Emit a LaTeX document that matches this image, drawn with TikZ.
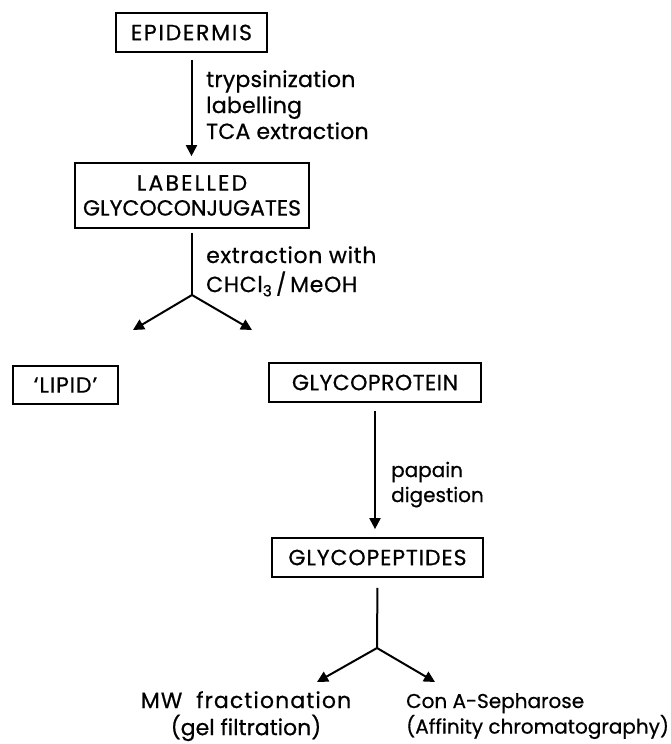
\documentclass[tikz,border=0pt]{standalone}
\usepackage{fontspec}
\setmainfont{Poppins}[AutoFakeBold=0.6]
\usetikzlibrary{arrows.meta}
\newcommand{\lbl}[1]{\begin{tabular}[t]{@{}l@{}}#1\end{tabular}}
\newcommand{\clbl}[1]{\begin{tabular}[t]{@{}c@{}}#1\end{tabular}}
\newcommand{\lsp}[1]{\addfontfeatures{LetterSpace=#1}}
\begin{document}
\begin{tikzpicture}[x=1pt,y=-1pt,
  box/.style={draw, line width=1.7pt, inner sep=0pt, font=\fontsize{22}{25}\selectfont\bfseries, align=center},
  lab/.style={inner sep=0pt, anchor=base west, font=\fontsize{22}{26}\selectfont\bfseries},
  clab/.style={inner sep=0pt, anchor=base, font=\fontsize{22}{22}\selectfont\bfseries},
  flow/.style={line width=2pt, -{Triangle[width=11pt,length=11pt]}},
  stem/.style={line width=2pt}]
\useasboundingbox (0,0) rectangle (670,744);
% boxes
\node[box, minimum width=151pt, minimum height=39pt] (epi) at (191.5,32.5) {\lsp{8}EPIDERMIS};
\node[box, minimum width=234pt, minimum height=65pt] (lgc) at (192,195.5) {{\lsp{10}LABELLED}\\GLYCOCONJUGATES};
\node[box, minimum width=105pt, minimum height=38pt] (lipid) at (65.5,385) {\lsp{4}‘LIPID’};
\node[box, minimum width=212pt, minimum height=39pt] (gpr) at (375,382.5) {\lsp{2}GLYCOPROTEIN};
\node[box, minimum width=211pt, minimum height=39pt] (gpe) at (377.5,557.5) {\lsp{4}GLYCOPEPTIDES};
% junctions and free ends
\coordinate (j1) at (192,295);
\coordinate (l1) at (133,330);
\coordinate (r1) at (252,330);
\coordinate (j2) at (377,648);
\coordinate (l2) at (317,682);
\coordinate (r2) at (435,682);
% connectors
\draw[flow, shorten <=7pt, shorten >=6pt] (epi.south) -- (epi.south |- lgc.north);
\draw[stem, shorten <=4pt] (lgc.south) -- (j1);
\draw[flow] (j1) -- (l1);
\draw[flow] (j1) -- (r1);
\draw[flow, shorten <=8pt, shorten >=8pt] (gpr.south) -- (gpr.south |- gpe.north);
\draw[stem, shorten <=10pt] (gpe.south) -- (j2);
\draw[flow] (j2) -- (l2);
\draw[flow] (j2) -- (r2);
% labels
\node[lab] (t1) at (206,87) {\lsp{1}\lbl{trypsinization\\labelling\\TCA extraction}};
\node[lab, font=\fontsize{22}{28}\selectfont\bfseries] (t2) at (206,263) {\lsp{3}\lbl{extraction with\\CHCl\textsubscript{3}\,/\,MeOH}};
\node[lab, font=\fontsize{20}{25}\selectfont\bfseries] (t3) at (391,477) {\lbl{papain\\digestion}};
\node[clab] (t4) at (246,708) {\clbl{{\lsp{5}MW\ \ fractionation}\\(gel filtration)}};
\node[lab, font=\fontsize{20}{23}\selectfont\bfseries] (t5) at (406,708) {\lbl{Con A-Sepharose\\(Affinity chromatography)}};
\end{tikzpicture}
\end{document}
